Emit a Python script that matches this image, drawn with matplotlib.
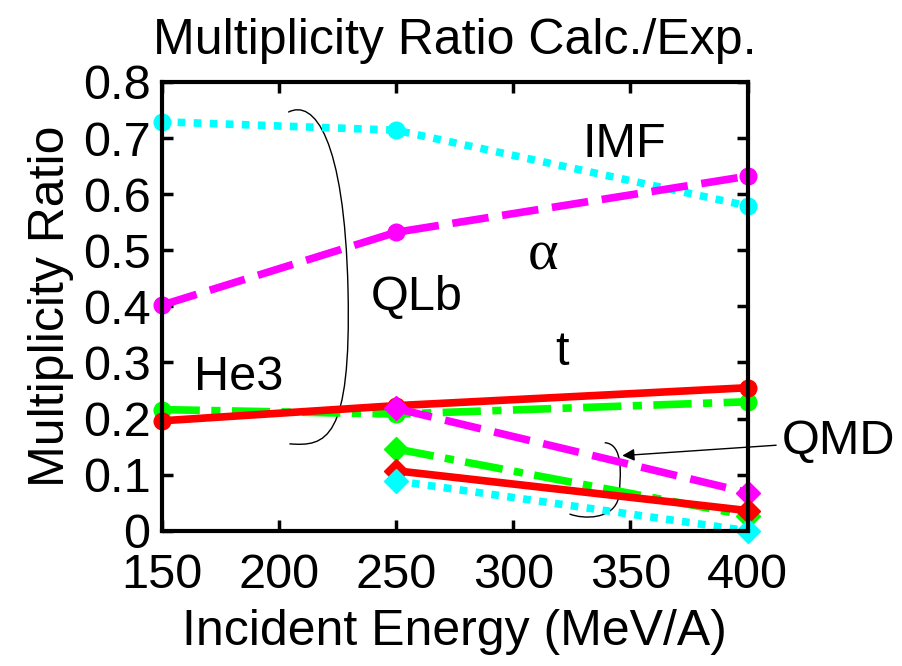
import matplotlib.pyplot as plt
from matplotlib.path import Path
from matplotlib.patches import PathPatch

plt.rcParams['font.family'] = ['Liberation Sans', 'DejaVu Sans']

energy_qlb = [150, 250, 400]
energy_qmd = [250, 400]

# QLb (circles)
imf_qlb = [0.729, 0.714, 0.579]
alpha_qlb = [0.402, 0.532, 0.632]
t_qlb = [0.196, 0.223, 0.255]
he3_qlb = [0.216, 0.208, 0.230]

# QMD (diamonds)
alpha_qmd = [0.218, 0.068]
he3_qmd = [0.146, 0.027]
t_qmd = [0.107, 0.036]
imf_qmd = [0.089, 0.0]

xticks = [150, 200, 250, 300, 350, 400]
yticks = [0, 0.1, 0.2, 0.3, 0.4, 0.5, 0.6, 0.7, 0.8]
ytick_labels = ['0', '0.1', '0.2', '0.3', '0.4', '0.5', '0.6', '0.7', '0.8']

fig = plt.figure(figsize=(9.03, 6.66), dpi=100)
ax = fig.add_axes([0.179, 0.203, 0.649, 0.674])

lw = 5.5
ms = 12
dot = (0, (1, 1.1))
dash = (0, (4.8, 1.8))
dashdot = (0, (5, 1.5, 1.2, 1.5))
ax.plot(energy_qlb, imf_qlb, color='cyan', linestyle=dot, lw=lw, marker='o', ms=ms, clip_on=False)
ax.plot(energy_qlb, alpha_qlb, color='magenta', linestyle=dash, lw=lw, marker='o', ms=ms, clip_on=False)
ax.plot(energy_qlb, he3_qlb, color='#00ff00', linestyle=dashdot, lw=lw, marker='o', ms=ms, clip_on=False)
ax.plot(energy_qlb, t_qlb, color='red', linestyle='-', lw=lw, marker='o', ms=ms, clip_on=False)

ax.plot(energy_qmd, alpha_qmd, color='magenta', linestyle=dash, lw=lw, marker='D', ms=ms, clip_on=False)
ax.plot(energy_qmd, he3_qmd, color='#00ff00', linestyle=dashdot, lw=lw, marker='D', ms=ms, clip_on=False)
ax.plot(energy_qmd, t_qmd, color='red', linestyle='-', lw=lw, marker='D', ms=ms, clip_on=False)
ax.plot(energy_qmd, imf_qmd, color='cyan', linestyle=dot, lw=lw, marker='D', ms=ms, clip_on=False)

ax.set_xlim(150, 400)
ax.set_ylim(0, 0.8)
ax.set_xticks(xticks)
ax.set_yticks(yticks)
ax.set_yticklabels(ytick_labels)
ax.tick_params(direction='in', top=True, right=True, length=8, width=2.5, labelsize=35)
ax.tick_params(axis='y', pad=8)
ax.tick_params(axis='x', pad=16)
for s in ax.spines.values():
    s.set_linewidth(3)

ax.set_xlabel('Incident Energy (MeV/A)', fontsize=36, labelpad=8)
ax.set_ylabel('Multiplicity Ratio', fontsize=36, labelpad=6)
ax.set_title('Multiplicity Ratio Calc./Exp.', fontsize=36, pad=20)

# labels
ax.text(347.5, 0.688, 'IMF', fontsize=35, ha='center', va='center')
ax.text(312.5, 0.49, 'α', fontsize=42, ha='center', va='center', family='Liberation Serif')
ax.text(259, 0.416, 'QLb', fontsize=35, ha='center', va='center')
ax.text(321, 0.318, 't', fontsize=35, ha='center', va='center')
ax.text(183, 0.273, 'He3', fontsize=35, ha='center', va='center')

# brackets
big = Path([(204, 0.746), (215, 0.77), (228, 0.70), (229.5, 0.43),
            (231, 0.16), (220, 0.15), (204.5, 0.155)],
           [Path.MOVETO, Path.CURVE4, Path.CURVE4, Path.CURVE4,
            Path.CURVE4, Path.CURVE4, Path.CURVE4])
ax.add_patch(PathPatch(big, fill=False, lw=1, color='black'))
small = Path([(339, 0.157), (347, 0.155), (346, 0.10), (345, 0.06),
              (343, 0.02), (330, 0.02), (324, 0.03)],
             [Path.MOVETO, Path.CURVE4, Path.CURVE4, Path.CURVE4,
              Path.CURVE4, Path.CURVE4, Path.CURVE4])
ax.add_patch(PathPatch(small, fill=False, lw=1, color='black'))

ax.annotate('QMD', xy=(346.5, 0.134), xytext=(414.5, 0.16), fontsize=35,
            ha='left', va='center', annotation_clip=False,
            arrowprops=dict(arrowstyle='-|>', color='black', lw=1, mutation_scale=18,
                            shrinkA=2, shrinkB=0))

fig.savefig('out.png', dpi=100)
